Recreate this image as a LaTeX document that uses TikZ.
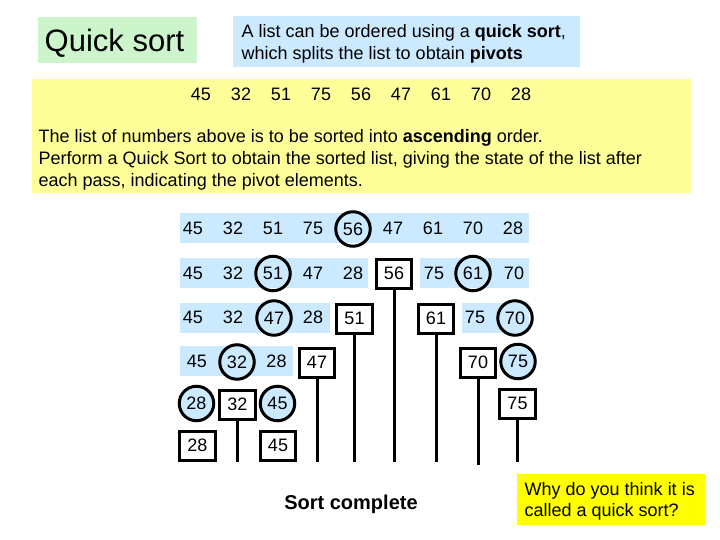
\documentclass[tikz,border=0pt]{standalone}
\usepackage{fontspec}
\setmainfont{Liberation Sans}
\definecolor{titlegreen}{RGB}{204,245,204}
\definecolor{infoblue}{RGB}{204,234,255}
\definecolor{taskyellow}{RGB}{255,255,153}
\definecolor{askyellow}{RGB}{255,255,0}
\definecolor{stripblue}{RGB}{204,234,255}

\begin{document}
\begin{tikzpicture}[
  x=1pt, y=-1pt,
  num/.style={font=\fontsize{18}{21}\selectfont, inner sep=0pt},
  pivot/.style={num, circle, draw, line width=3pt, minimum size=34.5pt},
  pivotdone/.style={pivot, fill=stripblue},
  fixed/.style={num, draw, line width=3pt, fill=white, minimum width=35.5pt, minimum height=29pt},
  stem/.style={line width=3pt},
  txt/.style={font=\fontsize{18}{22}\selectfont, inner sep=0pt, anchor=base west},
  strip/.style={fill=stripblue}
]
  \useasboundingbox (0,0) rectangle (720,540);

  % --- en-tete ---
  \fill[titlegreen] (38,17) rectangle (197,63);
  \node[txt, font=\fontsize{31}{36}\selectfont] (title) at (44.5,52) {Quick sort};

  \fill[infoblue] (233,16) rectangle (580,67);
  \node[txt] (info1) at (241.5,37.5) {A list can be ordered using a \textbf{quick sort},};
  \node[txt] (info2) at (241.5,59.5) {which splits the list to obtain \textbf{pivots}};

  % --- enonce ---
  \fill[taskyellow] (32,79) rectangle (691,193);
  \node[num] (l0-45) at (201,94) {45};
  \node[num] (l0-32) at (241,94) {32};
  \node[num] (l0-51) at (281,94) {51};
  \node[num] (l0-75) at (321,94) {75};
  \node[num] (l0-56) at (361,94) {56};
  \node[num] (l0-47) at (401,94) {47};
  \node[num] (l0-61) at (441,94) {61};
  \node[num] (l0-70) at (481,94) {70};
  \node[num] (l0-28) at (521,94) {28};
  \node[txt] (task1) at (38.5,142.3) {The list of numbers above is to be sorted into \textbf{ascending} order.};
  \node[txt] (task2) at (38.5,164.3) {Perform a Quick Sort to obtain the sorted list, giving the state of the list after};
  \node[txt] (task3) at (38.5,186.3) {each pass, indicating the pivot elements.};

  % Passe 1 : pivot 56
  \fill[strip] (180,213) rectangle (529,243);
  \node[num] (r1-45) at (193,228.5) {45};
  \node[num] (r1-32) at (233,228.5) {32};
  \node[num] (r1-51) at (273,228.5) {51};
  \node[num] (r1-75) at (313,228.5) {75};
  \node[pivot] (r1-56) at (353,229) {56};
  \node[num] (r1-47) at (393,228.5) {47};
  \node[num] (r1-61) at (433,228.5) {61};
  \node[num] (r1-70) at (473,228.5) {70};
  \node[num] (r1-28) at (513,228.5) {28};

  % Passe 2 : pivots 51 et 61
  \fill[strip] (180,258) rectangle (368,288);
  \fill[strip] (420,258) rectangle (529,288);
  \node[num] (r2-45) at (193,273) {45};
  \node[num] (r2-32) at (233,273) {32};
  \node[pivot] (r2-51) at (273,273.5) {51};
  \node[num] (r2-47) at (313,273) {47};
  \node[num] (r2-28) at (353,273) {28};
  \node[fixed] (r2-56) at (394,273.5) {56};
  \node[num] (r2-75) at (434,273) {75};
  \node[pivot] (r2-61) at (473,273.5) {61};
  \node[num] (r2-70) at (514,273) {70};

  % Passe 3 : pivots 47 et 70
  \fill[strip] (180,303) rectangle (330,333);
  \fill[strip] (462,303) rectangle (529,333);
  \node[num] (r3-45) at (193,317.5) {45};
  \node[num] (r3-32) at (233,317.5) {32};
  \node[pivot] (r3-47) at (274,318) {47};
  \node[num] (r3-28) at (313,317.5) {28};
  \node[fixed] (r3-51) at (354.5,318.5) {51};
  \node[fixed] (r3-61) at (436,318.5) {61};
  \node[num] (r3-75) at (475,317.5) {75};
  \node[pivot] (r3-70) at (515,318) {70};

  % Passe 4 : pivots 32 et 75
  \fill[strip] (180,346) rectangle (293,376);
  \node[num] (r4-45) at (197,361.5) {45};
  \node[pivotdone] (r4-32) at (237,362) {32};
  \node[num] (r4-28) at (276.5,361.5) {28};
  \node[fixed] (r4-47) at (317,362.5) {47};
  \node[fixed] (r4-70) at (478,362.5) {70};
  \node[pivotdone] (r4-75) at (518,361.5) {75};

  % Passe 5 : pivots 28 et 45
  \node[pivotdone] (r5-28) at (196.5,403.5) {28};
  \node[fixed] (r5-32) at (237.5,404.5) {32};
  \node[pivotdone] (r5-45) at (277.5,403.5) {45};
  \node[fixed] (r5-75) at (517.5,403.5) {75};

  % Passe 6
  \node[fixed] (r6-28) at (197.5,445.5) {28};
  \node[fixed] (r6-45) at (278,445.5) {45};

  % --- tiges des elements places ---
  \coordinate (e32) at (237.5,462);
  \coordinate (e47) at (317,462);
  \coordinate (e51) at (354.5,462);
  \coordinate (e56) at (394,462);
  \coordinate (e61) at (436,462);
  \coordinate (e70) at (478,465);
  \coordinate (e75) at (517.5,462);
  \draw[stem] (r5-32) -- (e32);
  \draw[stem] (r4-47) -- (e47);
  \draw[stem] (r3-51) -- (e51);
  \draw[stem] (r2-56) -- (e56);
  \draw[stem] (r3-61) -- (e61);
  \draw[stem] (r4-70) -- (e70);
  \draw[stem] (r5-75) -- (e75);

  % --- conclusion ---
  \node[font=\fontsize{20}{24}\selectfont\bfseries, inner sep=0pt, anchor=base] (done) at (351,509) {Sort complete};
  \fill[askyellow] (517,474) rectangle (705,525);
  \node[txt] (ask1) at (524.5,495) {Why do you think it is};
  \node[txt] (ask2) at (524.5,516) {called a quick sort?};
\end{tikzpicture}
\end{document}
